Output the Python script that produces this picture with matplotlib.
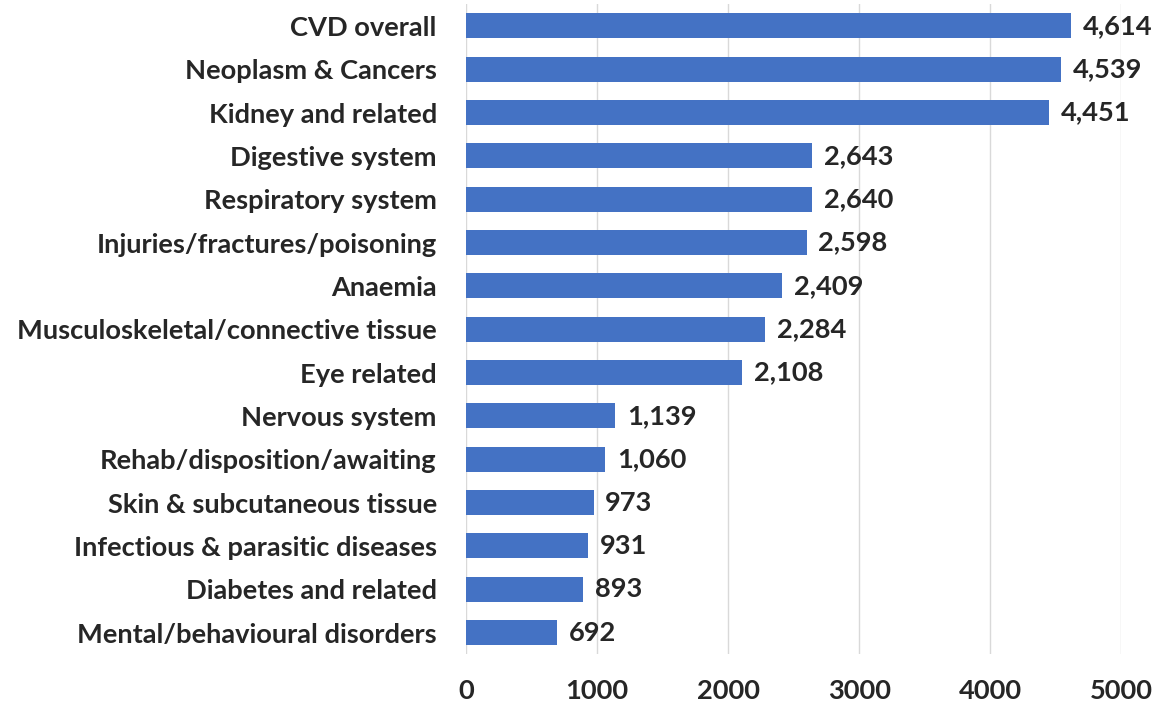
import matplotlib.pyplot as plt

# hospital admissions by category
categories = ["CVD overall", "Neoplasm & Cancers", "Kidney and related", "Digestive system",
              "Respiratory system", "Injuries/fractures/poisoning", "Anaemia",
              "Musculoskeletal/connective tissue", "Eye related", "Nervous system",
              "Rehab/disposition/awaiting", "Skin & subcutaneous tissue",
              "Infectious & parasitic diseases", "Diabetes and related",
              "Mental/behavioural disorders"]
counts = [4614, 4539, 4451, 2643, 2640, 2598, 2409, 2284, 2108, 1139, 1060, 973, 931, 893, 692]
xticks = [0, 1000, 2000, 3000, 4000, 5000]

plt.rcParams['font.family'] = ['Lato', 'DejaVu Sans']
fs = 19.6

fig = plt.figure(figsize=(11.58, 7.05), dpi=100)
ax = fig.add_axes([0.4024, 0.072, 0.566, 0.922])

pos = list(range(len(categories)))
ax.barh(pos, counts, height=0.58, color="#4472C4", zorder=3)
for p, v in zip(pos, counts):
    ax.text(v + 90, p, f"{v:,}", va="center", ha="left", fontsize=fs, fontweight="bold",
            color="#262626")

ax.set_yticks(pos)
ax.set_yticklabels(categories, fontsize=fs, fontweight="bold", color="#262626")
ax.set_ylim(len(categories) - 0.5, -0.5)
ax.set_xlim(0, 5000)
ax.set_xticks(xticks)
ax.set_xticklabels([str(t) for t in xticks], fontsize=fs, fontweight="bold", color="#262626")
ax.tick_params(axis="both", length=0)
ax.tick_params(axis="x", pad=18)
ax.tick_params(axis="y", pad=21)
ax.grid(axis="x", color="#D9D9D9", linewidth=1, zorder=0)
for s in ax.spines.values():
    s.set_visible(False)

fig.savefig("out.png", dpi=100)
